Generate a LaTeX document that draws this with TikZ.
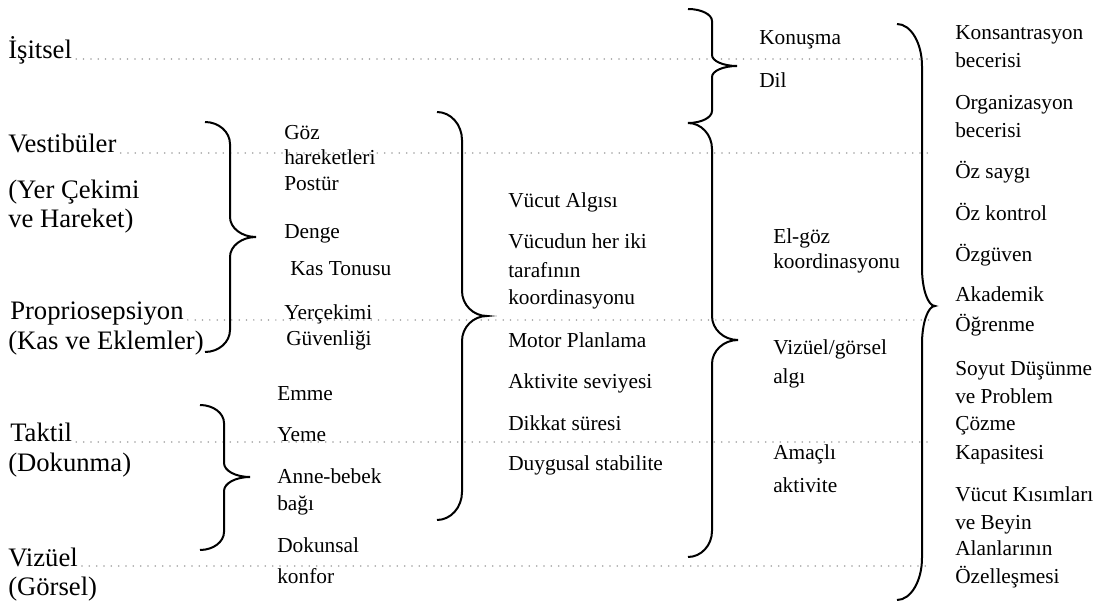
\documentclass[tikz,border=0pt]{standalone}
\usepackage{fontspec}
\setmainfont{Liberation Serif}
\usetikzlibrary{backgrounds}
\tikzset{
  big/.style={anchor=base west, inner sep=0pt, font=\fontsize{20pt}{24pt}\selectfont},
  small/.style={anchor=base west, inner sep=0pt, font=\fontsize{16pt}{19pt}\selectfont},
  leader/.style={draw=gray!75, line width=1.3pt, line cap=round, dash pattern=on 0pt off 5.5pt},
  bracestroke/.style={draw=black, line width=1.5pt}
}
% xe y1 xv xt ym y2 r r2
\newcommand\mybrace[8]{%
 \draw[bracestroke] (#1,#2) .. controls ({#1+0.55*(#3-#1)},#2) and (#3,{#2+0.45*#7}) .. (#3,{#2+#7})
   -- (#3,{#5-#8}) .. controls (#3,{#5-0.45*#8}) and ({#4-0.55*(#4-#3)},#5) .. (#4,#5)
   .. controls ({#4-0.55*(#4-#3)},#5) and (#3,{#5+0.45*#8}) .. (#3,{#5+#8})
   -- (#3,{#6-#7}) .. controls (#3,{#6-0.45*#7}) and ({#1+0.55*(#3-#1)},#6) .. (#1,#6);}
\begin{document}
\begin{tikzpicture}[x=0.75pt,y=-0.75pt]
\useasboundingbox (0,0) rectangle (1101,602);
% left labels
\node[big] (isitsel) at (8,59) {İşitsel};
\node[big] (vest) at (8,153) {Vestibüler};
\node[big] (yer1) at (8,199) {(Yer Çekimi};
\node[big] (yer2) at (8,228) {ve Hareket)};
\node[big] (prop) at (10,320) {Propriosepsiyon};
\node[big] (kas) at (8,350) {(Kas ve Eklemler)};
\node[big] (taktil) at (10,442) {Taktil};
\node[big] (dokunma) at (8,472) {(Dokunma)};
\node[big] (vizuel) at (8,566) {Vizüel};
\node[big] (gorsel) at (8,595) {(Görsel)};
% column 2
\node[small] (goz1) at (284,140) {Göz};
\node[small] (goz2) at (284,165) {hareketleri};
\node[small] (postur) at (284,191) {Postür};
\node[small] (denge) at (284,239) {Denge};
\node[small] (kastonus) at (290,276) {Kas Tonusu};
\node[small] (yerc1) at (284,320) {Yerçekimi};
\node[small] (yerc2) at (286,346) {Güvenliği};
\node[small] (emme) at (277,401) {Emme};
\node[small] (yeme) at (277,442) {Yeme};
\node[small] (anne1) at (277,484) {Anne-bebek};
\node[small] (anne2) at (277,511) {bağı};
\node[small] (dok1) at (277,553) {Dokunsal};
\node[small] (dok2) at (277,584) {konfor};
% column 3
\node[small] (vucut) at (508,208) {Vücut Algısı};
\node[small] (vh1) at (508,249) {Vücudun her iki};
\node[small] (vh2) at (508,278) {tarafının};
\node[small] (vh3) at (508,305) {koordinasyonu};
\node[small] (motor) at (508,348) {Motor Planlama};
\node[small] (aktivite) at (508,389) {Aktivite seviyesi};
\node[small] (dikkat) at (508,431) {Dikkat süresi};
\node[small] (duygu) at (508,471) {Duygusal stabilite};
% column 4
\node[small] (konusma) at (759,45) {Konuşma};
\node[small] (dil) at (759,88) {Dil};
\node[small] (elgoz1) at (773,244) {El-göz};
\node[small] (elgoz2) at (773,269) {koordinasyonu};
\node[small] (vizgor1) at (773,355) {Vizüel/görsel};
\node[small] (vizgor2) at (773,384) {algı};
\node[small] (amacli1) at (773,460) {Amaçlı};
\node[small] (amacli2) at (773,493) {aktivite};
% column 5
\node[small] (kons1) at (955,40) {Konsantrasyon};
\node[small] (kons2) at (955,68) {becerisi};
\node[small] (org1) at (955,110) {Organizasyon};
\node[small] (org2) at (955,138) {becerisi};
\node[small] (ozsaygi) at (955,179) {Öz saygı};
\node[small] (ozkontrol) at (955,221) {Öz kontrol};
\node[small] (ozguven) at (955,262) {Özgüven};
\node[small] (akad1) at (955,302) {Akademik};
\node[small] (akad2) at (955,332) {Öğrenme};
\node[small] (soyut1) at (955,376) {Soyut Düşünme};
\node[small] (soyut2) at (955,404) {ve Problem};
\node[small] (soyut3) at (955,431) {Çözme};
\node[small] (soyut4) at (955,460) {Kapasitesi};
\node[small] (vk1) at (955,502) {Vücut Kısımları};
\node[small] (vk2) at (955,530) {ve Beyin};
\node[small] (vk3) at (955,556) {Alanlarının};
\node[small] (vk4) at (955,584) {Özelleşmesi};
% dotted leaders
\coordinate (e1) at (932,59);
\coordinate (e2) at (932,153);
\coordinate (e3) at (932,320);
\coordinate (e4) at (932,442);
\coordinate (e5) at (932,566);
\begin{scope}[on background layer]
\draw[leader] ([xshift=3pt]isitsel.base east) -- (e1);
\draw[leader] ([xshift=3pt]vest.base east) -- (e2);
\draw[leader] ([xshift=3pt]prop.base east) -- (e3);
\draw[leader] ([xshift=3pt]taktil.base east) -- (e4);
\draw[leader] ([xshift=3pt]vizuel.base east) -- (e5);
\end{scope}
% braces
\mybrace{205}{122}{230}{256}{237}{352}{22}{20}
\mybrace{200}{405}{224}{250}{477}{550}{18}{14}
\mybrace{437}{112}{462}{487}{316}{520}{28}{25}
\mybrace{688}{9}{712}{737}{66}{123}{12}{11}
\mybrace{688}{123}{712}{738}{340}{557}{26}{24}
\mybrace{897}{24}{922}{935}{306}{600}{42}{38}
\end{tikzpicture}
\end{document}
